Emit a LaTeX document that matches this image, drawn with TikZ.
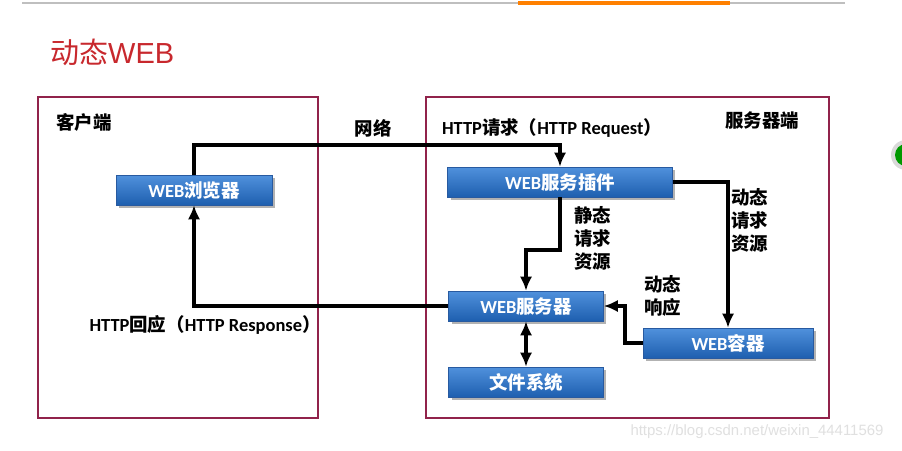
\documentclass[tikz,border=0pt]{standalone}
\usepackage{fontspec}
\usepackage{tikz}
\setmainfont{Noto Sans CJK SC}
\newfontfamily\latfont{Carlito}
\newfontfamily\wmfont{Liberation Sans}
\usetikzlibrary{arrows.meta}
\usetikzlibrary{shadows}
\definecolor{framered}{RGB}{145,35,75}
\definecolor{titlered}{RGB}{200,40,45}
\definecolor{boxtop}{RGB}{80,145,220}
\definecolor{boxbottom}{RGB}{30,95,175}
\definecolor{boxedge}{RGB}{40,90,160}
\newcommand\latn[1]{{\latfont #1}}
\tikzset{side/.style = {draw=framered, line width=1.2pt},
         unit/.style = {rectangle, top color=boxtop, bottom color=boxbottom,
                        draw=boxedge, line width=0.3pt, text=white,
                        font=\bfseries\fontsize{10.5}{12}\selectfont,
                        minimum height=0.6cm,
                        drop shadow={shadow xshift=0.06cm, shadow yshift=-0.06cm,
                                     fill=black!50, opacity=0.6}},
         flow/.style = {line width=2pt, -{Latex[length=8pt,width=7pt]}},
         note/.style = {font=\bfseries\fontsize{10.5}{13}\selectfont,
                        align=left, inner sep=0pt}}

\begin{document}
\begin{tikzpicture}[x=0.02cm, y=-0.02cm]
    \useasboundingbox (0,0) rectangle (902,450);
    \fill [white] (0,0) rectangle (902,450);
    % slide edge
    \draw [line width=1.5pt, black!25] (22,3) -- (845,3);
    \draw [line width=2pt, orange] (518,3) -- (730,3);
    \fill [black!15] (906,155) circle (15);
    \fill [green!60!black] (906,155) circle (11);

    \node [anchor=west, text=titlered, font=\fontsize{16.5}{18}\selectfont] (title) at (44,52) {动态{\wmfont WEB}};

    % client and server sides
    \draw [side] (38,97) rectangle (318,418);
    \draw [side] (426,97) rectangle (829,418);

    \node [unit, minimum width=3.12cm] (browser) at (194,190) {\latn{WEB}浏览器};
    \node [unit, minimum width=4.5cm] (plugin) at (560,182) {\latn{WEB}服务插件};
    \node [unit, minimum width=3.1cm] (server) at (526,306) {\latn{WEB}服务器};
    \node [unit, minimum width=3.1cm] (files) at (526,382) {文件系统};
    \node [unit, minimum width=3.4cm] (container) at (728,343) {\latn{WEB}容器};

    \node [note] (clientlbl) at (84,122) {客户端};
    \node [note] (netlbl) at (373,128) {网络};
    \node [note] (reqlbl) at (552,128) {\latn{HTTP}请求（\latn{HTTP Request}）};
    \node [note] (serverlbl) at (762,121) {服务器端};
    \node [note, anchor=north west] (staticlbl) at (574,206) {静态\\请求\\资源};
    \node [note, anchor=north west] (dynreqlbl) at (731,188) {动态\\请求\\资源};
    \node [note, anchor=north west] (dynresplbl) at (644,275) {动态\\响应};
    \node [note] (resplbl) at (205,325) {\latn{HTTP}回应（\latn{HTTP Response}）};
    \node [text=black!12, font=\wmfont\fontsize{8.5}{10}\selectfont] (mark) at (757,432) {https://blog.csdn.net/weixin\_44411569};

    \coordinate (reqtop) at (0,145);
    \coordinate (staticbend) at (0,250);

    \draw [flow] (browser.north) |- (plugin.north |- reqtop) -- (plugin.north);
    \draw [flow] (plugin.south) |- (server.north |- staticbend) -- (server.north);
    \draw [flow] (plugin.east) -| (container.north);
    \draw [flow] (container.west) -- ++(-18,0) |- (server.east);
    \draw [flow] (server.west) -| (browser.south);
    \draw [line width=2pt, {Latex[length=8pt,width=7pt]}-{Latex[length=8pt,width=7pt]}] (server.south) -- (files.north);
  \end{tikzpicture}
\end{document}
